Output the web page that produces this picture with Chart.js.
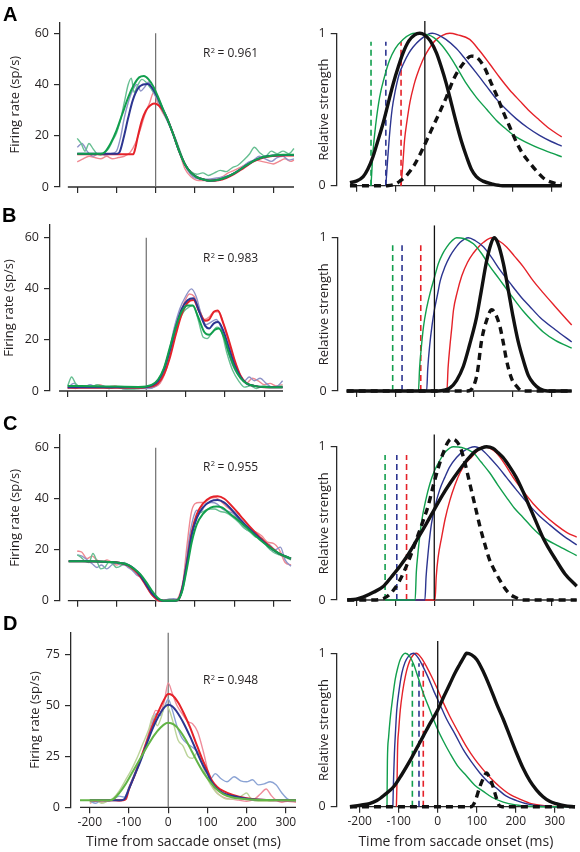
<!DOCTYPE html>
<html>
<head>
<meta charset="utf-8">
<script src="https://cdn.jsdelivr.net/npm/chart.js@4.4.1/dist/chart.umd.min.js"></script>
<style>
body { margin: 0; background: #fff; }
#fig { position: relative; width: 580px; height: 852px; }
#fig canvas { position: absolute; left: 0; top: 0; }
</style>
</head>
<body>
<div id="fig"></div>
<script>
// TICKS

var timeTicks = [-200, -100, 0, 100, 200, 300];
var rateTicks = [0, 20, 40, 60];
var rateTicksD = [0, 25, 50, 75];
var strengthTicks = [0, 1];

// PANEL A - firing rate (raw + fits)

var aRawGreen = [[-200,19],[-190,17],[-180,14],[-170,17],[-160,15],[-150,13],[-140,12.5],[-130,13.5],[-120,15],[-110,18],[-100,21],[-90,26],[-80,33],[-70,40],[-62,42.5],[-55,37],[-45,40],[-35,42],[-25,41],[-15,39],[0,36],[15,31],[30,26],[45,21],[60,15],[75,9],[90,6],[105,5],[120,5.5],[135,4.5],[150,5.5],[165,6.5],[180,6],[195,7.5],[210,8.5],[225,10.5],[240,13],[252,15.5],[265,13.5],[280,12],[295,14],[310,13],[325,14],[340,13],[353,15]];
var aRawBlue = [[-200,15.5],[-188,17],[-175,14],[-160,12],[-145,13],[-130,12.5],[-115,13],[-100,14],[-90,19],[-80,27],[-70,33],[-58,38],[-48,40],[-38,37.5],[-28,39],[-18,41],[-8,37.5],[5,34],[20,29],[35,24],[50,19],[65,12],[80,7],[95,4],[115,3],[135,3],[155,3.5],[175,4],[195,5],[215,7],[235,9.5],[250,10.5],[265,12],[280,11],[295,10],[310,11.5],[325,12],[340,10.5],[353,11]];
var aRawRed = [[-200,9.8],[-185,11],[-170,12],[-155,11.5],[-140,11],[-125,12],[-110,11],[-95,11.5],[-80,12],[-65,13.5],[-52,17],[-40,22],[-28,28],[-15,33],[-5,37],[5,33],[18,29],[30,26],[45,21],[60,14],[75,7],[90,4],[110,2.5],[130,2.5],[150,3],[170,4],[185,5.5],[200,6.5],[220,8],[240,9.5],[255,10.5],[270,10],[285,9.5],[300,9],[315,10],[330,11],[345,10],[353,10.5]];
var aFitGreen = [[-200,13],[-140,13],[-130,13.6],[-115,17],[-100,22],[-85,28.5],[-70,35],[-55,40],[-42,42.8],[-30,43.3],[-18,42],[-5,39],[8,34.5],[20,30],[30,26.5],[45,20.5],[60,14],[75,8.8],[90,5.6],[105,3.9],[120,3],[138,2.4],[160,2.8],[180,3.8],[200,5.3],[225,7.8],[250,10.2],[275,11.7],[300,12.3],[325,12.6],[353,12.6]];
var aFitBlue = [[-200,13],[-98,13],[-92,13.6],[-82,19],[-70,27],[-58,34],[-45,38.5],[-32,40],[-20,40.2],[-8,38.5],[5,35],[18,30.5],[30,26.5],[45,20.5],[60,14],[75,8.8],[90,5.6],[105,3.9],[120,3],[138,2.4],[160,2.8],[180,3.8],[200,5.3],[225,7.8],[250,10.2],[275,11.7],[300,12.3],[325,12.5],[353,12.5]];
var aFitRed = [[-200,12.8],[-57,12.8],[-52,15],[-45,20],[-35,26],[-25,29.8],[-14,31.8],[-4,32.6],[8,31.8],[20,29.5],[30,26.5],[45,20.5],[60,14],[75,8.8],[90,5.6],[105,3.9],[120,3],[138,2.4],[160,2.6],[180,3.5],[200,5],[225,7.5],[250,10],[275,11.5],[300,12.1],[325,12.3],[353,12.3]];
var aOnset = [[0,0],[0,60]];

// PANEL A - relative strength

var aGreen = [[-162,0],[-157,0.22],[-150,0.4],[-140,0.58],[-128,0.71],[-115,0.82],[-100,0.9],[-80,0.96],[-60,0.995],[-50,1],[-35,0.995],[-15,0.99],[0,0.97],[20,0.92],[40,0.85],[57,0.78],[80,0.68],[108,0.58],[135,0.5],[159,0.43],[185,0.37],[210,0.32],[240,0.28],[270,0.245],[300,0.215],[327,0.19]];
var aBlue = [[-124,0],[-120,0.15],[-115,0.32],[-108,0.5],[-100,0.62],[-90,0.73],[-79,0.8],[-65,0.87],[-54,0.91],[-35,0.96],[-15,0.995],[-5,1],[10,0.99],[30,0.96],[57,0.9],[80,0.83],[108,0.74],[135,0.65],[159,0.57],[185,0.5],[210,0.44],[240,0.38],[270,0.33],[300,0.29],[327,0.26]];
var aRed = [[-85,0],[-81,0.12],[-76,0.3],[-70,0.42],[-62,0.55],[-52,0.66],[-45,0.72],[-30,0.82],[-20,0.87],[-5,0.93],[6,0.96],[20,0.985],[40,1],[60,0.99],[91,0.96],[115,0.89],[142,0.8],[168,0.71],[193,0.63],[220,0.555],[244,0.49],[270,0.43],[295,0.375],[327,0.32]];
var aBlack = [[-216,0.02],[-200,0.03],[-182,0.06],[-170,0.11],[-157,0.19],[-145,0.29],[-131,0.41],[-118,0.54],[-105,0.67],[-92,0.78],[-80,0.87],[-65,0.95],[-50,0.99],[-37,1],[-25,0.99],[-10,0.95],[6,0.87],[18,0.78],[31,0.67],[44,0.54],[57,0.41],[70,0.29],[83,0.19],[95,0.11],[108,0.06],[125,0.03],[150,0.01],[175,0],[327,0]];
var aBlackDash = [[-216,0],[-120,0],[-100,0.01],[-88,0.03],[-70,0.07],[-50,0.14],[-28,0.25],[-10,0.35],[10,0.46],[31,0.58],[50,0.7],[74,0.8],[95,0.85],[110,0.84],[130,0.77],[145,0.68],[159,0.6],[176,0.49],[193,0.39],[210,0.29],[227,0.21],[245,0.15],[261,0.1],[285,0.04],[312,0.015],[327,0.01]];
var aCutGreen = [[-162,0],[-162,0.945]];
var aCutBlue = [[-124,0],[-124,0.945]];
var aCutRed = [[-85,0],[-85,0.945]];
var aZero = [[-24,0],[-24,1.08]];

// PANEL B - firing rate

var bRawGreen = [[-200,2],[-190,5.5],[-180,3],[-170,1.5],[-155,2],[-140,1.5],[-125,2.5],[-110,1.5],[-95,1],[-80,1.5],[-60,1],[-40,0.8],[-20,1],[0,1.5],[20,2],[35,4],[50,10],[65,18],[80,26],[95,31],[110,33],[120,33.5],[132,28],[145,21],[155,20.5],[168,23],[180,25],[192,23],[205,15],[220,8],[235,4],[250,1.5],[265,2],[280,1],[300,2],[320,1.5],[347,2]];
var bRawBlue = [[-200,1],[-185,3],[-172,2],[-158,1.5],[-143,2.5],[-128,1.5],[-112,2],[-95,1],[-75,1.5],[-55,0.8],[-35,1],[-15,1],[5,1],[25,2],[40,5],[55,13],[70,24],[85,32],[100,37],[115,40],[127,37],[140,30],[152,26],[165,27],[178,28],[190,25],[205,17],[220,10],[235,6],[250,4],[262,5.5],[275,4],[290,5],[305,3],[320,1.5],[335,2],[347,4]];
var bRawRed = [[-200,1.5],[-180,1],[-160,2],[-140,1.5],[-120,2.5],[-100,1.5],[-80,2],[-60,1],[-40,1.5],[-20,1],[0,1.2],[20,1.5],[35,3],[50,8],[65,17],[80,27],[95,34],[110,38],[122,37],[135,32],[148,28],[160,29],[172,31],[185,31],[197,26],[210,19],[225,11],[240,6],[255,3],[270,5],[285,4],[300,2.5],[315,3],[330,2],[347,2.5]];
var bFitGreen = [[-200,2],[-100,1.8],[-20,1.6],[0,1.8],[15,2.5],[30,4.5],[45,9],[60,17],[75,25],[90,31],[105,33.5],[118,33.5],[132,29],[148,23],[160,22],[175,24],[185,24.5],[198,21],[210,15],[225,9],[240,5],[255,3],[275,2],[300,1.6],[347,1.5]];
var bFitBlue = [[-200,1.5],[-20,1.5],[0,1.6],[15,2.2],[30,4],[45,8.5],[60,16],[75,25],[90,32],[105,35.5],[120,36.3],[135,31],[150,25.5],[160,24.5],[172,26.5],[183,27],[195,24],[210,17],[225,10],[240,5.5],[255,3],[275,2],[300,1.6],[347,1.5]];
var bFitRed = [[-200,1.3],[-20,1.3],[0,1.5],[15,1.8],[30,3],[45,6.5],[60,13],[75,22],[90,30],[105,34.5],[120,35.6],[135,31],[150,27.5],[160,28],[172,31],[182,31.5],[195,27],[210,20],[225,12],[240,6],[255,3],[275,2],[300,1.5],[347,1.5]];
var bOnset = [[0,0],[0,60]];

// PANEL B - relative strength

var bGreen = [[-107,0],[-41,0],[-38,0.15],[-33,0.3],[-28,0.42],[-20,0.54],[-11,0.64],[0,0.74],[10,0.83],[20,0.89],[32,0.94],[45,0.98],[57,1],[75,0.995],[100,0.96],[120,0.9],[143,0.81],[165,0.735],[185,0.665],[205,0.595],[228,0.52],[255,0.445],[279,0.385],[310,0.33],[352,0.28]];
var bBlue = [[-83,0],[-20,0],[-17,0.15],[-12,0.3],[-6,0.43],[0,0.53],[8,0.63],[15,0.72],[27,0.81],[40,0.88],[53,0.93],[66,0.97],[87,1],[105,0.98],[126,0.94],[147,0.87],[168,0.79],[195,0.7],[220,0.62],[245,0.55],[271,0.48],[310,0.4],[352,0.32]];
var bRed = [[-35,0],[32,0],[35,0.15],[40,0.3],[44,0.4],[49,0.53],[58,0.64],[70,0.75],[85,0.84],[100,0.9],[113,0.94],[126,0.97],[147,1],[165,0.98],[185,0.94],[205,0.88],[228,0.81],[253,0.72],[279,0.64],[310,0.55],[352,0.43]];
var bBlack = [[-225,0],[10,0],[25,0.005],[40,0.02],[57,0.07],[74,0.16],[90,0.3],[108,0.48],[120,0.65],[134,0.85],[145,0.96],[153,1],[162,0.97],[177,0.83],[190,0.65],[202,0.48],[215,0.32],[228,0.2],[241,0.1],[254,0.05],[270,0.015],[290,0],[352,0]];
var bBlackDash = [[-225,0],[85,0],[100,0.03],[110,0.12],[121,0.33],[135,0.47],[147,0.53],[157,0.5],[168,0.42],[177,0.31],[185,0.2],[198,0.08],[211,0.03],[225,0],[352,0]];
var bCutGreen = [[-107,0],[-107,0.95]];
var bCutBlue = [[-83,0],[-83,0.95]];
var bCutRed = [[-35,0],[-35,0.95]];
var bZero = [[0,0],[0,1.08]];

// PANEL C - firing rate

var cRawGreen = [[-200,18],[-190,17],[-180,15.5],[-170,15],[-160,18.5],[-150,15.5],[-140,12.5],[-130,13],[-120,15],[-110,14.5],[-100,13],[-90,13.5],[-80,15],[-70,14],[-60,13],[-50,11.5],[-40,10],[-30,8],[-20,5],[-10,2.5],[0,1],[10,0.5],[20,0],[35,0.5],[50,0.3],[60,1],[70,5],[80,14],[90,24],[100,31],[110,34],[122,35],[135,36],[150,36],[165,35],[180,34.5],[195,33],[210,31],[225,28.5],[240,27],[255,25],[270,24.5],[285,21],[300,19],[315,18],[330,17],[345,16]];
var cRawBlue = [[-200,18],[-188,17.5],[-175,16],[-162,14.5],[-150,13],[-138,14],[-125,12.5],[-112,14],[-100,15],[-90,14],[-80,14],[-70,13],[-60,12],[-48,10],[-36,9],[-24,6],[-12,3],[0,1],[15,0],[30,0.5],[45,0.8],[55,0.5],[65,3],[75,12],[85,24],[95,32],[105,35.5],[115,35],[128,38],[142,38.5],[156,38],[170,36],[185,35],[200,34],[215,31],[230,28],[245,27],[260,25],[275,23],[290,22],[305,20],[318,21],[330,16],[345,13.5]];
var cRawRed = [[-200,19.5],[-188,19],[-175,16.5],[-162,17.5],[-150,16],[-137,15],[-124,16],[-112,15],[-100,14],[-88,14.5],[-76,14],[-64,13],[-52,12],[-40,10.5],[-28,7],[-16,3.5],[-5,1.5],[8,0],[25,0.3],[40,0.5],[50,0.3],[60,2],[70,8],[80,22],[90,34],[100,38],[112,38.5],[124,38.5],[138,40],[152,40.5],[166,39],[180,37],[195,35],[210,32],[225,30],[240,28],[255,27],[270,25.5],[285,23],[300,22.5],[315,20],[330,15],[345,14]];
var cFitGreen = [[-222,15.5],[-160,15.5],[-120,15.2],[-90,14.8],[-70,14],[-55,12.5],[-40,10.5],[-25,7.5],[-10,4],[0,2],[10,0.5],[20,0],[50,0],[58,0.5],[68,4],[80,13],[92,23],[105,30],[120,34],[140,36.5],[155,37],[170,36.5],[190,34],[215,31],[240,27.5],[265,24],[290,21],[315,18.5],[345,16.5]];
var cFitBlue = [[-222,15.5],[-120,15.2],[-90,14.8],[-70,14],[-55,12.5],[-40,10],[-25,6.5],[-10,3],[0,1.5],[10,0.3],[20,0],[50,0],[58,0.5],[68,5],[80,15],[92,26],[105,32.5],[120,36.5],[140,39],[158,39.5],[175,38.5],[195,35.5],[215,32],[240,28],[265,24.5],[290,21],[315,18.5],[345,16.5]];
var cFitRed = [[-222,15.5],[-120,15.2],[-90,14.8],[-70,13.8],[-55,12],[-40,9.5],[-25,6],[-10,2.5],[0,1],[10,0],[50,0],[58,0.5],[68,5],[80,15.5],[92,27],[105,34],[120,38],[140,40.5],[158,41],[175,40],[195,37],[215,33.5],[240,29],[265,25],[290,21.5],[315,18.5],[345,16.5]];
var cOnset = [[0,0],[0,60]];

// PANEL C - relative strength

var cGreen = [[-126,0],[-49,0],[-46,0.18],[-42,0.3],[-37,0.42],[-32,0.52],[-22,0.65],[-11,0.76],[0,0.84],[14,0.91],[30,0.97],[49,1],[70,0.995],[100,0.96],[120,0.9],[142,0.83],[163,0.75],[185,0.67],[205,0.6],[227,0.54],[252,0.47],[278,0.41],[320,0.35],[365,0.29]];
var cBlue = [[-96,0],[-24,0],[-21,0.15],[-16,0.3],[-12,0.4],[-7,0.5],[3,0.62],[14,0.72],[27,0.8],[40,0.87],[57,0.93],[74,0.97],[104,1],[122,0.98],[142,0.93],[163,0.87],[185,0.8],[210,0.72],[236,0.64],[265,0.56],[296,0.49],[330,0.42],[365,0.36]];
var cRed = [[-71,0],[2,0],[5,0.15],[10,0.28],[19,0.41],[28,0.53],[40,0.65],[53,0.75],[66,0.83],[80,0.89],[95,0.93],[110,0.97],[125,1],[142,0.99],[159,0.96],[180,0.89],[202,0.8],[228,0.71],[253,0.63],[280,0.56],[312,0.49],[340,0.44],[365,0.41]];
var cBlack = [[-223,0],[-200,0.005],[-181,0.02],[-156,0.05],[-130,0.09],[-110,0.15],[-88,0.22],[-66,0.3],[-45,0.39],[-22,0.49],[0,0.59],[20,0.68],[40,0.76],[62,0.84],[83,0.91],[105,0.97],[120,0.99],[134,1],[150,0.99],[164,0.96],[176,0.93],[193,0.87],[210,0.8],[227,0.71],[244,0.61],[261,0.51],[278,0.41],[295,0.33],[312,0.26],[335,0.17],[365,0.09]];
var cBlackDash = [[-223,0],[-156,0],[-130,0.01],[-113,0.04],[-100,0.08],[-88,0.13],[-75,0.2],[-62,0.28],[-45,0.4],[-28,0.52],[-15,0.62],[-3,0.74],[10,0.86],[23,0.96],[35,1.03],[44,1.05],[55,1.04],[66,1],[78,0.9],[91,0.76],[104,0.62],[117,0.48],[130,0.36],[142,0.26],[155,0.19],[168,0.13],[180,0.08],[193,0.04],[210,0.015],[227,0],[365,0]];
var cCutGreen = [[-126,0],[-126,0.946]];
var cCutBlue = [[-96,0],[-96,0.946]];
var cCutRed = [[-71,0],[-71,0.946]];
var cZero = [[0,0],[0,1.08]];

// PANEL D - firing rate

var dRawBlue = [[-200,3],[-185,2],[-170,3.5],[-155,3],[-140,4],[-125,5.5],[-112,5],[-100,10],[-85,17],[-70,24],[-55,32],[-42,40],[-30,46],[-20,45],[-10,49],[0,53],[10,48],[22,40],[35,34],[50,31],[65,29],[80,26],[95,20],[108,14],[120,16.5],[135,14],[150,12.5],[168,15],[185,13],[200,12.5],[215,13.5],[230,11],[245,11.5],[260,12.5],[275,11],[290,7],[305,4],[326,3]];
var dRawRed = [[-200,2],[-185,3],[-170,2.5],[-155,3],[-140,3.5],[-125,3],[-112,4],[-100,9],[-85,16],[-70,24],[-55,33],[-42,42],[-32,47.5],[-20,47],[-10,52],[0,61],[10,56],[22,50],[35,46],[50,42],[62,41],[75,37],[90,27],[105,15],[120,8],[140,5],[160,4],[180,3.5],[200,3],[220,4],[235,6.5],[250,9],[262,6],[275,3.5],[290,2.5],[305,3],[326,2.5]];
var dRawOlive = [[-200,2.5],[-185,3.5],[-170,2],[-155,3],[-140,4.5],[-125,8],[-110,13],[-95,18],[-80,24],[-65,31],[-50,38],[-38,45],[-28,40],[-18,44],[-8,50],[2,48],[12,42],[25,33],[38,30],[50,25],[62,24],[75,27],[88,20],[100,14],[115,9],[130,6],[150,4],[170,4],[190,6],[200,7],[212,4],[230,3],[260,3],[290,3.5],[326,3]];
var dFitGreen = [[-225,3.5],[-150,3.5],[-140,4],[-125,7],[-110,11],[-95,16],[-80,21],[-65,26],[-50,31],[-35,35.5],[-20,39],[-5,41.3],[0,41.5],[15,40.5],[30,37.5],[45,33],[60,27.5],[75,22],[90,17],[105,13],[120,9.5],[140,6.5],[165,4.8],[200,4],[250,3.6],[326,3.5]];
var dFitBlue = [[-200,3.5],[-120,3.5],[-112,4],[-100,9],[-85,16],[-70,23],[-55,31],[-40,38.5],[-25,44.5],[-10,49],[0,50.3],[10,49.5],[25,46],[40,41],[55,35],[70,28.5],[85,22],[100,16.5],[112,12],[125,9],[140,7],[165,5.5],[200,4.2],[250,3.6],[326,3.5]];
var dFitRed = [[-200,3.5],[-115,3.5],[-108,4],[-100,9],[-85,16],[-70,24],[-55,32],[-40,40],[-25,47],[-10,53],[0,55.5],[10,55],[25,51.5],[40,46],[55,39.5],[70,32],[85,24.5],[100,18],[112,13],[125,10],[140,8],[165,6],[200,4.5],[250,3.6],[326,3.5]];
var dOnset = [[0,0],[0,85.6]];

// PANEL D - relative strength

var dGreen = [[-130,0],[-129,0.3],[-126,0.45],[-122,0.57],[-115,0.72],[-109,0.83],[-102,0.91],[-96,0.96],[-83,1],[-72,0.98],[-62,0.93],[-50,0.84],[-37,0.74],[-20,0.63],[-3,0.52],[14,0.43],[31,0.35],[50,0.27],[74,0.2],[95,0.14],[117,0.1],[140,0.06],[168,0.03],[200,0.012],[236,0.003],[270,0],[352,0]];
var dBlue = [[-115,0],[-113,0.2],[-111,0.35],[-108,0.5],[-105,0.63],[-99,0.76],[-92,0.87],[-84,0.94],[-75,0.98],[-62,1],[-50,0.97],[-37,0.91],[-24,0.84],[-11,0.76],[5,0.67],[23,0.57],[45,0.47],[66,0.37],[87,0.29],[108,0.22],[130,0.16],[151,0.12],[175,0.07],[202,0.04],[235,0.015],[270,0.003],[300,0],[352,0]];
var dRed = [[-106,0],[-104,0.2],[-103,0.37],[-100,0.5],[-96,0.63],[-90,0.75],[-83,0.85],[-76,0.92],[-68,0.97],[-55,1],[-42,0.97],[-28,0.91],[-16,0.85],[-3,0.78],[14,0.68],[31,0.59],[52,0.49],[74,0.39],[95,0.31],[117,0.24],[138,0.18],[159,0.13],[185,0.08],[210,0.05],[240,0.02],[278,0.005],[310,0],[352,0]];
var dBlack = [[-225,0],[-198,0.01],[-175,0.02],[-156,0.04],[-135,0.08],[-113,0.13],[-92,0.21],[-71,0.3],[-54,0.38],[-37,0.46],[-18,0.55],[0,0.63],[16,0.72],[31,0.8],[44,0.87],[57,0.93],[66,0.97],[74,1],[87,0.99],[100,0.96],[117,0.88],[134,0.78],[151,0.67],[168,0.57],[185,0.46],[202,0.35],[219,0.25],[236,0.17],[253,0.11],[270,0.065],[287,0.035],[304,0.02],[325,0.007],[352,0]];
var dBlackDash = [[-225,0],[85,0],[95,0.03],[108,0.13],[118,0.19],[125,0.22],[133,0.19],[142,0.13],[150,0.06],[157,0.01],[165,0],[352,0]];
var dCutGreen = [[-65,0],[-65,0.935]];
var dCutBlue = [[-48,0],[-48,0.935]];
var dCutRed = [[-37,0],[-37,0.935]];
var dZero = [[0,0],[0,1.08]];

// STYLE

var AXIS = '#2a2a2a';
var FONT = "'Open Sans', sans-serif";
var RED = '#e52229', BLUE = '#2c3590', GREEN = '#119f4d', LIME = '#62b446';
var PINK = '#f08891', LILAC = '#8e93c8', SEA = '#67bf92';
var PINK_D = '#ef8d9b', STEEL_D = '#8ba3d4', OLIVE_D = '#bcd49a';
var INK = '#111111';

Chart.defaults.font.family = FONT;
Chart.defaults.font.size = 13;
Chart.defaults.color = '#231f20';

function curve(data, color, width, dash) {
    return {
        data: data,
        borderColor: color,
        borderWidth: width,
        borderDash: dash || [],
        pointRadius: 0,
        fill: false,
        clip: false,
        cubicInterpolationMode: 'monotone'
    };
}

function straight(data, color, width, dash) {
    var d = curve(data, color, width, dash);
    d.cubicInterpolationMode = 'default';
    d.tension = 0;
    return d;
}

function drawR2(ctx, text, x, y) {
    ctx.fillStyle = '#231f20';
    ctx.textBaseline = 'alphabetic';
    ctx.textAlign = 'left';
    ctx.font = '12px ' + FONT;
    ctx.fillText('R', x, y);
    var w = ctx.measureText('R').width;
    ctx.font = '7.5px ' + FONT;
    ctx.fillText('2', x + w + 0.3, y - 4.5);
    ctx.font = '12px ' + FONT;
    ctx.fillText(' = ' + text, x + w + 4, y);
}

function panel(p) {
    var canvas = document.createElement('canvas');
    canvas.width = 580;
    canvas.height = 852;
    document.getElementById('fig').appendChild(canvas);
    var a = p.area; // left, top, right, bottom
    var xH = p.xTitle ? p.xH : 10;

    new Chart(canvas, {
        type: 'line',
        data: { datasets: p.datasets },
        options: {
            responsive: false,
            animation: false,
            events: [],
            devicePixelRatio: 1,
            layout: { padding: { left: a[0] - p.yW, top: a[1], right: 580 - a[2], bottom: 852 - a[3] - xH } },
            plugins: { legend: { display: false }, tooltip: { enabled: false } },
            scales: {
                x: {
                    type: 'linear',
                    min: p.x[0],
                    max: p.x[1],
                    afterBuildTicks: function (s) { s.ticks = timeTicks.map(function (v) { return { value: v }; }); },
                    afterFit: function (s) { s.height = xH; },
                    border: { display: false },
                    grid: { drawOnChartArea: false, tickLength: 6, color: AXIS, lineWidth: 1.2 },
                    ticks: { display: !!p.xTitle, padding: 2, maxRotation: 0, autoSkip: false, font: { size: 12 } },
                    title: { display: !!p.xTitle, text: p.xTitle || '', padding: 0, font: { size: 14 } }
                },
                y: {
                    min: 0,
                    max: p.yMax,
                    afterBuildTicks: function (s) { s.ticks = p.yTicks.map(function (v) { return { value: v }; }); },
                    afterFit: function (s) { s.width = p.yW; },
                    border: { display: true, color: AXIS, width: 1.3 },
                    grid: { drawOnChartArea: false, tickLength: 6, color: AXIS, lineWidth: 1.2 },
                    ticks: { padding: 5, font: { size: 12.5 } },
                    title: { display: true, text: p.yTitle, padding: 0 }
                }
            }
        },
        plugins: [{
            id: 'spine',
            beforeDatasetsDraw: function (chart) {
                var ctx = chart.ctx, ca = chart.chartArea;
                ctx.save();
                ctx.strokeStyle = AXIS;
                ctx.lineWidth = 1.3;
                ctx.beginPath();
                ctx.moveTo(chart.scales.x.getPixelForValue(p.xStart), ca.bottom);
                ctx.lineTo(ca.right, ca.bottom);
                ctx.stroke();
                ctx.restore();
            },
            afterDraw: function (chart) {
                var ctx = chart.ctx;
                ctx.save();
                if (p.letter) {
                    ctx.fillStyle = '#000';
                    ctx.font = "bold 20px 'Liberation Sans', Arial, sans-serif";
                    ctx.textBaseline = 'alphabetic';
                    ctx.fillText(p.letter[0], p.letter[1], p.letter[2]);
                }
                if (p.r2) drawR2(ctx, p.r2[0], p.r2[1], p.r2[2]);
                ctx.restore();
            }
        }]
    });
}

function ratePanel(p, raw, fit, onset, colors) {
    p.yTitle = 'Firing rate (sp/s)';
    p.datasets = [
        curve(fit[0], colors[0], 2),
        curve(fit[1], colors[1], 2),
        curve(fit[2], colors[2], 2),
        curve(raw[0], colors[3], 1.4),
        curve(raw[1], colors[4], 1.4),
        curve(raw[2], colors[5], 1.4),
        straight(onset, '#6e6e6e', 1.2)
    ];
    panel(p);
}

function strengthPanel(p, s) {
    p.yTitle = 'Relative strength';
    p.yTicks = strengthTicks;
    p.yMax = 1;
    p.datasets = [
        curve(s.black, INK, 3.4),
        curve(s.dash, INK, 3.4, [7, 5]),
        straight(s.zero, INK, 1.3),
        curve(s.green, GREEN, 1.4),
        curve(s.blue, BLUE, 1.4),
        curve(s.red, RED, 1.4),
        straight(s.cuts[0], GREEN, 1.6, [6, 4]),
        straight(s.cuts[1], BLUE, 1.6, [6, 4]),
        straight(s.cuts[2], RED, 1.6, [6, 4])
    ];
    panel(p);
}

var rateColors = [GREEN, BLUE, RED, SEA, LILAC, PINK];

// ROW A
ratePanel({ area: [60, 22.3, 294, 187], x: [-244, 353], yMax: 64.3, yTicks: rateTicks, xStart: -224, yW: 52.5,
            letter: ['A', 3, 20.7], r2: ['0.961', 203, 57] },
          [aRawGreen, aRawBlue, aRawRed], [aFitGreen, aFitBlue, aFitRed], aOnset, rateColors);
strengthPanel({ area: [336.7, 33.3, 562, 185.7], x: [-250, 327.7], xStart: -216, yW: 20.3 },
              { black: aBlack, dash: aBlackDash, zero: aZero, green: aGreen, blue: aBlue, red: aRed, cuts: [aCutGreen, aCutBlue, aCutRed] });

// ROW B
ratePanel({ area: [50, 225, 283, 391], x: [-245, 348], yMax: 65, yTicks: rateTicks, xStart: -222, yW: 48.5,
            letter: ['B', 2, 221.7], r2: ['0.983', 203, 262] },
          [bRawGreen, bRawBlue, bRawRed], [bFitGreen, bFitBlue, bFitRed], bOnset, rateColors);
strengthPanel({ area: [337.7, 237.7, 571.7, 391], x: [-248, 352], xStart: -225, yW: 21.3 },
              { black: bBlack, dash: bBlackDash, zero: bZero, green: bGreen, blue: bBlue, red: bRed, cuts: [bCutGreen, bCutBlue, bCutRed] });

// ROW C
ratePanel({ area: [60, 435, 291, 600.7], x: [-244, 345], yMax: 65, yTicks: rateTicks, xStart: -224, yW: 52.5,
            letter: ['C', 3, 430], r2: ['0.955', 203, 470.5] },
          [cRawGreen, cRawBlue, cRawRed], [cFitGreen, cFitBlue, cFitRed], cOnset, rateColors);
strengthPanel({ area: [336.7, 446.7, 576.7, 600], x: [-250, 365], xStart: -223, yW: 20.3 },
              { black: cBlack, dash: cBlackDash, zero: cZero, green: cGreen, blue: cBlue, red: cRed, cuts: [cCutGreen, cCutBlue, cCutRed] });

// ROW D
ratePanel({ area: [71, 632.7, 296, 807.3], x: [-248, 326], yMax: 85.6, yTicks: rateTicksD, xStart: -225, yW: 43.8,
            xTitle: 'Time from saccade onset (ms)', xH: 42.8,
            letter: ['D', 3, 630], r2: ['0.948', 203, 684] },
          [dRawOlive, dRawBlue, dRawRed], [dFitGreen, dFitBlue, dFitRed], dOnset,
          [LIME, BLUE, RED, OLIVE_D, STEEL_D, PINK_D]);
strengthPanel({ area: [336.7, 653.3, 575, 806.7], x: [-259, 352], xStart: -225, yW: 20.3,
                xTitle: 'Time from saccade onset (ms)', xH: 43.4 },
              { black: dBlack, dash: dBlackDash, zero: dZero, green: dGreen, blue: dBlue, red: dRed, cuts: [dCutGreen, dCutBlue, dCutRed] });
</script>
</body>
</html>
